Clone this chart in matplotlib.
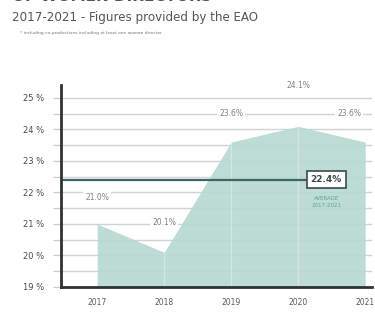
import matplotlib
matplotlib.use("Agg")
import matplotlib.pyplot as plt
import numpy as np

years = [2017, 2018, 2019, 2020, 2021]
share = [21.0, 20.1, 23.6, 24.1, 23.6]
average = 22.4
label_offsets = [0.85, 0.95, 0.9, 1.3, 0.9]

title_top = "OF WOMEN DIRECTORS"
title = "2017-2021 - Figures provided by the EAO"
note = "* including co-productions including at least one woman director"
avg_caption = "AVERAGE\n2017-2021"

fig = plt.figure(figsize=(3.75, 3.15), dpi=100)
fig.patch.set_facecolor("white")
ax = fig.add_axes([0.1627, 0.0889, 0.829, 0.641])

ax.set_xlim(2016.46, 2021.1)
ax.set_ylim(19, 25.41)

# grid lines every half percent
for g in np.arange(19.5, 25.01, 0.5):
    ax.axhline(g, color="#cfd3d3", lw=1.0, zorder=1)

ax.fill_between(years, 19, share, color="#b7d9d1", alpha=0.92, lw=0, zorder=2)
for i, x in enumerate(years[1:-1], start=1):
    ax.plot([x, x], [19, share[i]], color="white", lw=1.0, alpha=0.35, zorder=3)

for i, (x, v, off) in enumerate(zip(years, share, label_offsets)):
    last = i == len(years) - 1
    ax.annotate(f"{v:.1f}%", (x, v + off), xytext=(-3 if last else 0, 0),
                textcoords="offset points", ha="right" if last else "center",
                va="center", fontsize=5.5, color="#7d8383", zorder=6,
                annotation_clip=False,
                bbox=dict(boxstyle="square,pad=0.25", fc="white", ec="none")) if last else \
        ax.text(x, v + off, f"{v:.1f}%", ha="center", va="center", fontsize=5.5,
                color="#7d8383", zorder=6,
                bbox=dict(boxstyle="square,pad=0.25", fc="white", ec="none"))

# average line and box
box_x = 2020.42
ax.plot([ax.get_xlim()[0], box_x - 0.25], [average, average], color="#3f6660", lw=1.6, zorder=5)
ax.text(box_x, average, f"{average:.1f}%", ha="center", va="center", fontsize=6.5,
        fontweight="bold", color="#3a4a48", zorder=7,
        bbox=dict(boxstyle="square,pad=0.45", fc="white", ec="#3a4a48", lw=1.2))
ax.text(box_x, average - 0.7, avg_caption, ha="center", va="center", fontsize=4,
        color="#5aa594", linespacing=1.3, zorder=7)

for s in ["top", "right"]:
    ax.spines[s].set_visible(False)
for s in ["left", "bottom"]:
    ax.spines[s].set_color("#2f3333")
    ax.spines[s].set_linewidth(2.0)
    ax.spines[s].set_zorder(8)

yt = np.arange(19, 25.01, 0.5)
ax.set_yticks(yt)
ax.set_yticklabels([f"{int(t)} %" if float(t).is_integer() else "" for t in yt])
ax.tick_params(axis="y", length=6, width=0.9, color="#c8cccc", labelsize=6,
               labelcolor="#4a4a4a", pad=6)
ax.set_xticks(years)
ax.set_xticklabels([str(y) for y in years])
ax.tick_params(axis="x", length=0, labelsize=5.5, labelcolor="#5a5a5a", pad=8)

fig.text(0.032, 1.012, title_top, ha="left", va="center", fontsize=11,
         fontweight="bold", color="#555555")
fig.text(0.032, 0.943, title, ha="left", va="center", fontsize=8.6, color="#555555")
fig.text(0.053, 0.895, note, ha="left", va="center", fontsize=3.2, color="#777777")

fig.savefig("out.png", dpi=100, facecolor="white")
